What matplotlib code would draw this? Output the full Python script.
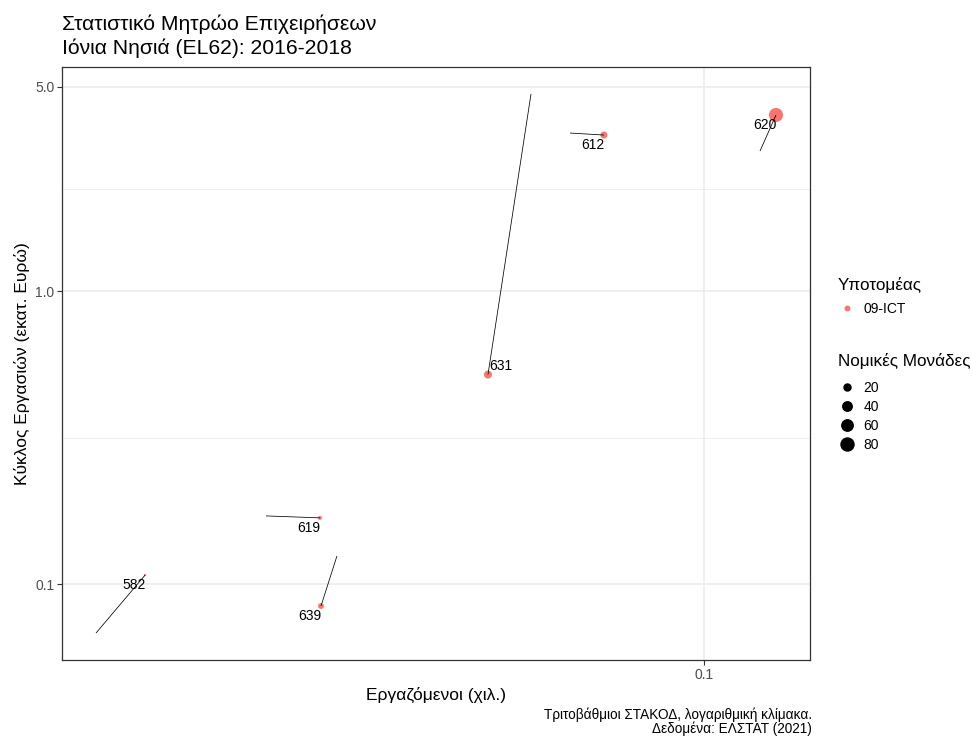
import matplotlib
matplotlib.use('Agg')
import matplotlib.pyplot as plt
from matplotlib.lines import Line2D
from matplotlib.ticker import FixedLocator, FixedFormatter, NullFormatter, NullLocator
import numpy as np

plt.rcParams['font.family'] = ['Liberation Sans', 'DejaVu Sans']

# ---- data ----
codes = ['582', '612', '619', '620', '631', '639']
emp_2016 = [0.01539, 0.06620, 0.02597, 0.1188, 0.05871, 0.03231]
emp_2018 = [0.01790, 0.07349, 0.03066, 0.1248, 0.05143, 0.03076]
turn_2016 = [0.0680, 3.476, 0.1709, 3.016, 4.727, 0.1247]
turn_2018 = [0.1073, 3.421, 0.1683, 4.006, 0.5198, 0.0841]
units_2018 = [1, 20, 5, 95, 27, 13]
subsector = '09-ICT'
size_breaks = [20, 40, 60, 80]
y_breaks = [0.1, 1.0, 5.0]
y_labels = ['0.1', '1.0', '5.0']
y_minor = [10 ** -0.5, 5 ** 0.5]
x_breaks = [0.1]
x_labels = ['0.1']

# label offsets (points) -- style
label_offsets = {'631': (9, 6)}
default_offset = (-8, -7.5)

PT_COLOR = '#F8766D'


def diam_pt(v):
    d_px = 1 + 1.342 * np.sqrt(v)
    return d_px * 0.72


fig = plt.figure(figsize=(9.72, 7.36), dpi=100)
ax = fig.add_axes([62 / 972, 1 - 660 / 736, (810 - 62) / 972, (660 - 67) / 736])
ax.set_xscale('log')
ax.set_yscale('log')

sizes = [diam_pt(v) ** 2 for v in units_2018]
ax.scatter(emp_2018, turn_2018, s=sizes, color=PT_COLOR, edgecolors='none', zorder=3)
for x0, x1, y0, y1 in zip(emp_2016, emp_2018, turn_2016, turn_2018):
    ax.plot([x0, x1], [y0, y1], color='black', lw=0.55, zorder=4, solid_capstyle='butt')

for c, x, y in zip(codes, emp_2018, turn_2018):
    off = label_offsets.get(c, default_offset)
    ax.annotate(c, (x, y), xytext=off, textcoords='offset points', ha='center', va='center',
                fontsize=10, color='black', zorder=5)

ax.margins(0.05)

ax.yaxis.set_major_locator(FixedLocator(y_breaks))
ax.yaxis.set_major_formatter(FixedFormatter(y_labels))
ax.yaxis.set_minor_locator(FixedLocator(y_minor))
ax.yaxis.set_minor_formatter(NullFormatter())
ax.xaxis.set_major_locator(FixedLocator(x_breaks))
ax.xaxis.set_major_formatter(FixedFormatter(x_labels))
ax.xaxis.set_minor_locator(NullLocator())

ax.grid(True, which='major', color='#EBEBEB', lw=1.1, zorder=0)
ax.grid(True, which='minor', axis='y', color='#EBEBEB', lw=0.55, zorder=0)
ax.set_axisbelow(True)
ax.tick_params(which='major', direction='out', length=3.5, width=0.8, color='#333333',
               labelcolor='#4D4D4D', labelsize=10, pad=2)
ax.tick_params(which='minor', length=0)
for s in ax.spines.values():
    s.set_color('#333333')
    s.set_linewidth(0.9)

ax.set_xlabel('Εργαζόμενοι (χιλ.)', fontsize=12.5, labelpad=3.5)
ax.set_ylabel('Κύκλος Εργασιών (εκατ. Ευρώ)', fontsize=12.5, labelpad=3.5)

fig.text(62 / 972, 1 - 15 / 736, 'Στατιστικό Μητρώο Επιχειρήσεων\nΙόνια Νησιά (EL62): 2016-2018',
         fontsize=15.2, ha='left', va='top', linespacing=1.25)
fig.text(812 / 972, 1 - 708 / 736, 'Τριτοβάθμιοι ΣΤΑΚΟΔ, λογαριθμική κλίμακα.\nΔεδομένα: ΕΛΣΤΑΤ (2021)',
         fontsize=9.8, ha='right', va='top', linespacing=0.95)

# legends
fig.text(838 / 972, 1 - 285 / 736, 'Υποτομέας', fontsize=12.3, ha='left', va='center')
fig.text(838 / 972, 1 - 361 / 736, 'Νομικές Μονάδες', fontsize=12.3, ha='left', va='center')

h1 = [Line2D([], [], marker='o', ls='', color=PT_COLOR, markersize=3.2)]
leg1 = fig.legend(handles=h1, labels=[subsector], loc='center left',
                  bbox_to_anchor=(832 / 972, 1 - 309 / 736), frameon=False,
                  fontsize=10, handlelength=1.3, handletextpad=0.55, borderaxespad=0)
h2 = [Line2D([], [], marker='o', ls='', color='black', markersize=diam_pt(v)) for v in size_breaks]
leg2 = fig.legend(handles=h2, labels=[str(v) for v in size_breaks],
                  loc='center left', bbox_to_anchor=(832 / 972, 1 - 416.5 / 736), frameon=False,
                  fontsize=10, handlelength=1.3, handletextpad=0.55, labelspacing=0.36,
                  borderaxespad=0)

fig.savefig('out.png', dpi=100)
